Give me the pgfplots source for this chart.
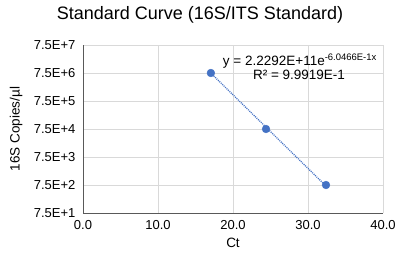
\documentclass[border=0pt]{standalone}
\usepackage{pgfplots}
\pgfplotsset{compat=1.18}
\usepackage{fontspec}
\setmainfont{Liberation Sans}
\definecolor{ptblue}{HTML}{4472C4}
\definecolor{gridgray}{HTML}{D9D9D9}
\definecolor{axgray}{HTML}{595959}
\begin{document}
\begin{tikzpicture}
\begin{axis}[
  scale only axis,
  width=300pt, height=168pt,
  xmin=0, xmax=40,
  ymode=log, ymin=75, ymax=7.5e7,
  xtick={0,10,20,30,40},
  xticklabels={0.0,10.0,20.0,30.0,40.0},
  ytick={75,750,7500,75000,750000,7500000,75000000},
  yticklabels={7.5E+1,7.5E+2,7.5E+3,7.5E+4,7.5E+5,7.5E+6,7.5E+7},
  minor ytick={},
  log basis y=10,
  grid=major,
  major grid style={gridgray, line width=0.8pt},
  axis line style={draw=none},
  tick style={draw=none},
  ticklabel style={font=\fontsize{13pt}{15pt}\selectfont, text=black},
  xticklabel style={yshift=-4pt},
  yticklabel style={xshift=-4pt},
  xlabel={Ct},
  ylabel={16S Copies/µl},
  label style={font=\fontsize{13.5pt}{15pt}\selectfont},
  xlabel style={at={(axis description cs:0.5,0)}, anchor=center, yshift=-30pt},
  ylabel style={at={(axis description cs:-0.223,0.5)}, anchor=center, rotate=0},
  clip=false,
]
\coordinate (O) at (rel axis cs:0,0);
\draw[axgray, line width=0.9pt] (rel axis cs:0,1) -- (rel axis cs:0,0) -- (rel axis cs:1,0);
\addplot[ptblue, line width=1.3pt, dash pattern=on 1pt off 1pt, no marks] coordinates {(17.05,7.42e6) (32.4,689)};
\addplot[only marks, mark=*, mark size=3.9pt, ptblue, mark options={fill=ptblue, draw=ptblue}] coordinates {
(17.05,7.5e6) (24.4,7.5e4) (32.4,7.5e2)};
\node[font=\fontsize{13.5pt}{15pt}\selectfont, anchor=center] at (axis description cs:0.723,0.905) {y = 2.2292E+11e\textsuperscript{-6.0466E-1x}};
\node[font=\fontsize{13.5pt}{15pt}\selectfont, anchor=center] at (axis description cs:0.72,0.825) {R² = 9.9919E-1};
\node[font=\fontsize{18pt}{20pt}\selectfont, anchor=center] at (axis description cs:0.39,1) [yshift=30pt] {Standard Curve (16S/ITS Standard)};
\end{axis}
\pgfresetboundingbox
\path (O) ++(-83pt,-45pt) rectangle ++(401pt,258pt);
\end{tikzpicture}
\end{document}
